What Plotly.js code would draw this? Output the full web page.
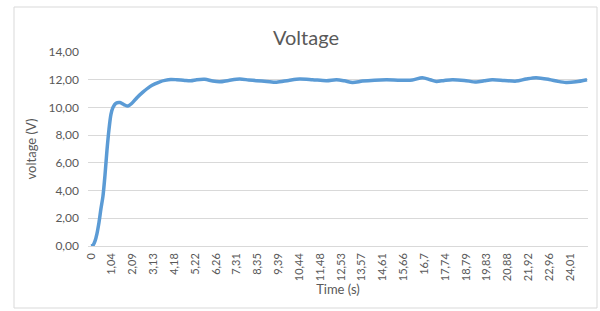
<!DOCTYPE html>
<html>
<head>
<meta charset="utf-8">
<script src="https://cdn.plot.ly/plotly-3.0.1.min.js"></script>
<style>
html,body{margin:0;padding:0;background:#fff;}
#chart{width:600px;height:311px;}
</style>
</head>
<body>
<div id="chart"></div>
<script>
// Time samples (s)
var timeS = [0, 0.1, 0.2, 0.3, 0.4, 0.5, 0.6, 0.7, 0.8, 0.9, 1.0, 1.1, 1.25, 1.45, 1.65, 1.85, 2.05, 2.3, 2.6, 2.95,
  3.2, 3.45, 3.7, 4.0, 4.3, 4.7, 5.0, 5.3, 5.7, 6.1, 6.45, 6.9, 7.45, 7.9, 8.3, 8.8, 9.3, 9.9, 10.45, 11.1,
  11.8, 12.3, 12.7, 13.1, 13.6, 14.2, 14.8, 15.5, 16.1, 16.6, 17.0, 17.3, 17.7, 18.1, 18.7, 19.3, 19.7, 20.1,
  20.7, 21.3, 21.8, 22.3, 22.95, 23.4, 23.8, 24.3, 24.85];
// Voltage (V)
var voltage = [0, 0.05, 0.35, 0.9, 1.7, 2.7, 3.6, 5.1, 6.9, 8.4, 9.5, 10.0, 10.3, 10.35, 10.2, 10.1, 10.3, 10.7, 11.1, 11.5,
  11.7, 11.85, 11.95, 12.02, 12.0, 11.95, 11.93, 12.0, 12.03, 11.9, 11.85, 11.95, 12.05, 11.98, 11.93, 11.88, 11.82, 11.95, 12.05, 12.0,
  11.93, 12.0, 11.92, 11.8, 11.9, 11.97, 12.0, 11.97, 11.98, 12.15, 12.0, 11.88, 11.95, 12.0, 11.95, 11.83, 11.92, 12.0,
  11.95, 11.9, 12.05, 12.15, 12.02, 11.88, 11.8, 11.85, 12.0];
// Category tick labels shown on the x axis
var tickValues = [0, 1.04, 2.09, 3.13, 4.18, 5.22, 6.26, 7.31, 8.35, 9.39, 10.44, 11.48, 12.53, 13.57, 14.61, 15.66,
  16.7, 17.74, 18.79, 19.83, 20.88, 21.92, 22.96, 24.01];
var tickLabels = ["0", "1,04", "2,09", "3,13", "4,18", "5,22", "6,26", "7,31", "8,35", "9,39", "10,44", "11,48", "12,53",
  "13,57", "14,61", "15,66", "16,7", "17,74", "18,79", "19,83", "20,88", "21,92", "22,96", "24,01"];

var grey = '#595959';
var fontFam = 'Lato, "Open Sans", sans-serif';
var L = 88, R = 12, T = 52, B = 65, W = 600, H = 311;
var pw = W - L - R, ph = H - T - B;
function px(x){ return (x - L) / pw; }
function py(y){ return (H - B - y) / ph; }

var trace = {
  x: timeS, y: voltage, type: 'scatter', mode: 'lines',
  line: {color: '#5b9bd5', width: 3.5, shape: 'spline', smoothing: 0.8},
  hoverinfo: 'skip'
};

var layout = {
  width: W, height: H,
  margin: {l: L, r: R, t: T, b: B},
  paper_bgcolor: '#fff', plot_bgcolor: '#fff',
  separators: ', ',
  showlegend: false,
  font: {family: fontFam, color: grey, size: 12},
  title: {text: 'Voltage', font: {family: fontFam, size: 20, color: grey},
    x: 306 / W, xref: 'container', xanchor: 'center', yref: 'container', y: 1 - 38 / H, yanchor: 'middle'},
  xaxis: {
    range: [-0.15, 24.9],
    tickmode: 'array', tickvals: tickValues, ticktext: tickLabels,
    tickangle: -90, tickfont: {size: 11, color: grey, family: fontFam},
    showgrid: false, zeroline: false, showline: false, ticks: '',
    ticklabelstandoff: 4,
    title: {text: 'Time (s)', font: {size: 13, color: grey, family: fontFam}, standoff: 0}
  },
  yaxis: {
    range: [0, 14], dtick: 2, tickformat: '.2f',
    tickfont: {size: 12, color: grey, family: fontFam},
    showgrid: true, gridcolor: '#d9d9d9', gridwidth: 1,
    zeroline: true, zerolinecolor: '#d9d9d9', zerolinewidth: 1,
    showline: false, ticks: '', ticklabelstandoff: 8,
    title: {text: 'voltage (V)', font: {size: 13, color: grey, family: fontFam}, standoff: 8}
  },
  shapes: [{
    type: 'rect', xref: 'paper', yref: 'paper', layer: 'below',
    x0: px(14), x1: px(597), y0: py(308), y1: py(7),
    line: {color: '#d9d9d9', width: 1}, fillcolor: 'rgba(0,0,0,0)'
  }]
};

Plotly.newPlot('chart', [trace], layout, {displayModeBar: false, staticPlot: true});
</script>
</body>
</html>
